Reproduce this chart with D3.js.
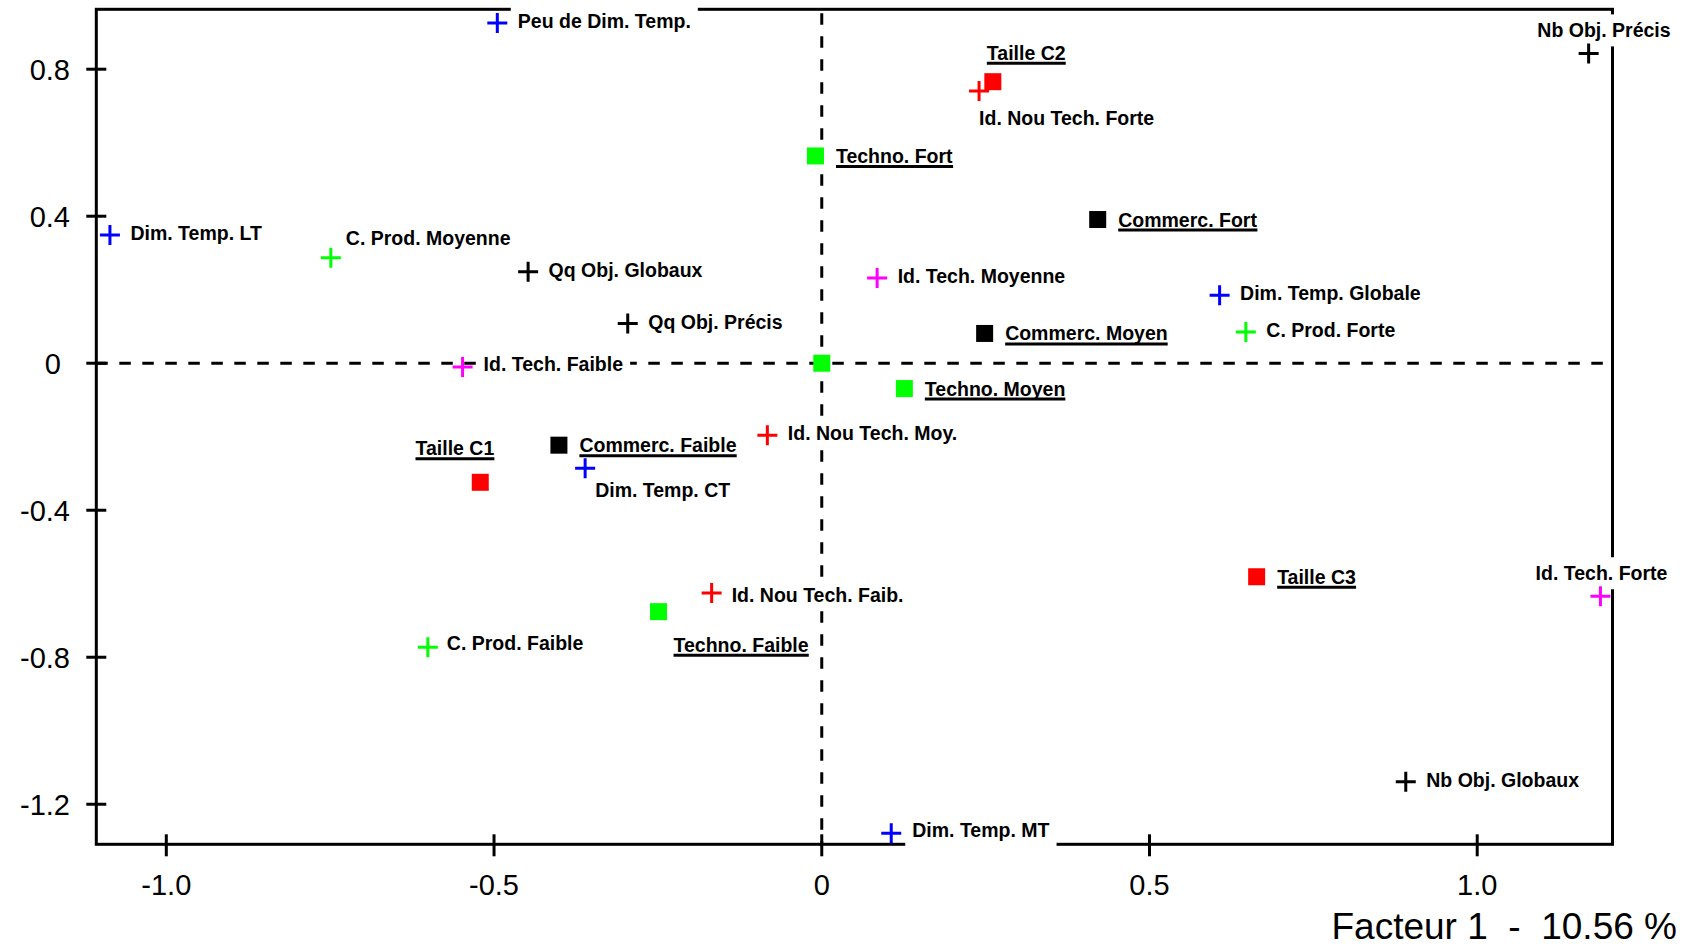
<!DOCTYPE html>
<html>
<head>
<meta charset="utf-8">
<script src="https://cdn.jsdelivr.net/npm/d3@7"></script>
<style>
  body { margin: 0; background: #fff; }
</style>
</head>
<body>
<div id="canvas"></div>
<script>
"use strict"

let svgWidth = 1686
let svgHeight = 948

/* modalities: name, coordinate on factor 1, coordinate on factor 2 */
let names = [
  "Peu de Dim. Temp.", "Dim. Temp. LT", "Dim. Temp. CT", "Dim. Temp. MT", "Dim. Temp. Globale",
  "C. Prod. Moyenne", "C. Prod. Forte", "C. Prod. Faible",
  "Qq Obj. Globaux", "Qq Obj. Précis", "Nb Obj. Précis", "Nb Obj. Globaux",
  "Id. Tech. Faible", "Id. Tech. Moyenne", "Id. Tech. Forte",
  "Id. Nou Tech. Forte", "Id. Nou Tech. Moy.", "Id. Nou Tech. Faib.",
  "Taille C1", "Taille C2", "Taille C3",
  "Commerc. Faible", "Commerc. Moyen", "Commerc. Fort",
  "Techno. Fort", "Techno. Moyen", "Techno. Faible", ""
]
let factor1 = [
  -0.495, -1.086, -0.361, 0.106, 0.607,
  -0.749, 0.647, -0.601,
  -0.448, -0.296, 1.170, 0.891,
  -0.548, 0.0845, 1.188,
  0.240, -0.083, -0.168,
  -0.521, 0.261, 0.6635,
  -0.401, 0.2485, 0.421,
  -0.0096, 0.126, -0.249, 0.0
]
let factor2 = [
  0.926, 0.349, -0.286, -1.279, 0.185,
  0.287, 0.085, -0.773,
  0.249, 0.108, 0.843, -1.139,
  -0.010, 0.232, -0.634,
  0.741, -0.196, -0.625,
  -0.324, 0.766, -0.581,
  -0.223, 0.081, 0.391,
  0.564, -0.069, -0.676, 0.0
]
/* square = active modality (underlined), cross = supplementary */
let markerType = [
  "cross", "cross", "cross", "cross", "cross",
  "cross", "cross", "cross",
  "cross", "cross", "cross", "cross",
  "cross", "cross", "cross",
  "cross", "cross", "cross",
  "square", "square", "square",
  "square", "square", "square",
  "square", "square", "square", "square"
]
let variable = [
  "dim", "dim", "dim", "dim", "dim",
  "prod", "prod", "prod",
  "obj", "obj", "obj", "obj",
  "tech", "tech", "tech",
  "nou", "nou", "nou",
  "taille", "taille", "taille",
  "commerc", "commerc", "commerc",
  "techno", "techno", "techno", "techno"
]

let xTicks = [-1.0, -0.5, 0, 0.5, 1.0]
let xTickLabels = ["-1.0", "-0.5", "0", "0.5", "1.0"]
let yTicks = [0.8, 0.4, 0, -0.4, -0.8, -1.2]
let yTickLabels = ["0.8", "0.4", "0", "-0.4", "-0.8", "-1.2"]
let axisTitle = "Facteur 1  -  10.56 %"

let points = names.map((n, i) => ({
  name: n, f1: factor1[i], f2: factor2[i], type: markerType[i], group: variable[i]
}))

let colors = {
  dim: "#0000ff", prod: "#00ff00", obj: "#000000", tech: "#ff00ff",
  nou: "#ff0000", taille: "#ff0000", commerc: "#000000", techno: "#00ff00"
}

/* where a label sits when it is not simply to the right of its marker */
let labelPlace = {
  "Taille C2": {dx: -6, dy: -22},
  "Id. Nou Tech. Forte": {dx: 0, dy: 34},
  "Taille C1": {dx: 14, dy: -27, anchor: "end"},
  "Dim. Temp. CT": {dx: 10, dy: 29},
  "Nb Obj. Précis": {dx: 82, dy: -16, anchor: "end"},
  "Id. Tech. Forte": {dx: 67, dy: -16, anchor: "end"},
  "Techno. Faible": {dx: 15, dy: 40},
  "C. Prod. Moyenne": {dx: 15, dy: -13},
  "Id. Nou Tech. Faib.": {dx: 20, dy: 9},
  "C. Prod. Faible": {dx: 19, dy: 3},
  "Id. Tech. Faible": {dx: 21, dy: 4},
  "Dim. Temp. MT": {dx: 21, dy: 4}
}

/* SVG canvas */
let svg = d3.select("#canvas")
  .append("svg")
  .attr("width", svgWidth)
  .attr("height", svgHeight)
  .style("display", "block")

/* Scales */
let xScale = d3.scaleLinear()
  .domain([-1.1068, 1.2064])
  .range([96.3, 1612.5])

let yScale = d3.scaleLinear()
  .domain([0.963, -1.309])
  .range([9.3, 844.3])

let frameLeft = xScale.range()[0], frameRight = xScale.range()[1]
let frameTop = yScale.range()[0], frameBottom = yScale.range()[1]

/* frame */
svg.append("rect")
  .attr("x", frameLeft)
  .attr("y", frameTop)
  .attr("width", frameRight - frameLeft)
  .attr("height", frameBottom - frameTop)
  .attr("fill", "none")
  .attr("stroke", "black")
  .attr("stroke-width", 3)

/* dashed lines through the origin */
svg.append("line")
  .attr("x1", frameLeft).attr("x2", frameRight)
  .attr("y1", yScale(0)).attr("y2", yScale(0))
  .attr("stroke", "black")
  .attr("stroke-width", 3)
  .attr("stroke-dasharray", "11.5,11.5")

svg.append("line")
  .attr("x1", xScale(0)).attr("x2", xScale(0))
  .attr("y1", frameTop).attr("y2", frameBottom)
  .attr("stroke", "black")
  .attr("stroke-width", 3)
  .attr("stroke-dasharray", "11.5,11.5")
  .attr("stroke-dashoffset", 19)

/* ticks */
svg.selectAll(".ytick")
  .data(yTicks)
  .join("line")
  .attr("class", "ytick")
  .attr("x1", frameLeft - 10).attr("x2", frameLeft + 10)
  .attr("y1", d => yScale(d)).attr("y2", d => yScale(d))
  .attr("stroke", "black")
  .attr("stroke-width", 3)

svg.selectAll(".xtick")
  .data(xTicks)
  .join("line")
  .attr("class", "xtick")
  .attr("x1", d => xScale(d)).attr("x2", d => xScale(d))
  .attr("y1", frameBottom - 10).attr("y2", frameBottom + 12)
  .attr("stroke", "black")
  .attr("stroke-width", 3)

/* tick numbers */
svg.selectAll(".ylabel")
  .data(yTicks)
  .join("text")
  .attr("class", "ylabel")
  .attr("x", 70)
  .attr("dx", d => d === 0 ? -9 : 0)
  .attr("y", d => yScale(d) + 11)
  .attr("text-anchor", "end")
  .attr("font-family", "Liberation Sans, Arial, sans-serif")
  .attr("font-size", 29)
  .text((d, i) => yTickLabels[i])

svg.selectAll(".xlabel")
  .data(xTicks)
  .join("text")
  .attr("class", "xlabel")
  .attr("x", d => xScale(d))
  .attr("y", 895)
  .attr("text-anchor", "middle")
  .attr("font-family", "Liberation Sans, Arial, sans-serif")
  .attr("font-size", 29)
  .text((d, i) => xTickLabels[i])

/* axis title */
svg.append("text")
  .attr("x", 1677)
  .attr("y", 939)
  .attr("text-anchor", "end")
  .attr("font-family", "Liberation Sans, Arial, sans-serif")
  .attr("font-size", 37)
  .style("white-space", "pre")
  .text(axisTitle)

/* layers: label backgrounds, markers, labels */
let bgLayer = svg.append("g")
let markLayer = svg.append("g")
let textLayer = svg.append("g")

function place(d) {
  let p = labelPlace[d.name]
  if (p) return p
  return {dx: 20.5, dy: d.type === "square" ? 7 : 5}
}

let labels = textLayer.selectAll("text")
  .data(points.filter(d => d.name !== ""))
  .join("text")
  .attr("x", d => xScale(d.f1) + place(d).dx)
  .attr("y", d => yScale(d.f2) + place(d).dy)
  .attr("text-anchor", d => place(d).anchor || "start")
  .attr("font-family", "Liberation Sans, Arial, sans-serif")
  .attr("font-weight", "bold")
  .attr("font-size", 19.5)
  .text(d => d.name)

/* white box behind each label, it hides the lines underneath */
labels.each(function(d) {
  let bb = this.getBBox()
  let baseY = +d3.select(this).attr("y")
  bgLayer.append("rect")
    .attr("x", bb.x - 7)
    .attr("y", bb.y - 5)
    .attr("width", bb.width + 14)
    .attr("height", bb.height + 10)
    .attr("fill", "white")
  if (d.type === "square") {
    textLayer.append("line")
      .attr("x1", bb.x).attr("x2", bb.x + bb.width)
      .attr("y1", baseY + 3.5)
      .attr("y2", baseY + 3.5)
      .attr("stroke", "black")
      .attr("stroke-width", 3)
  }
})

/* markers */
markLayer.selectAll(".sq")
  .data(points.filter(d => d.type === "square"))
  .join("rect")
  .attr("class", "sq")
  .attr("x", d => xScale(d.f1) - 8.5)
  .attr("y", d => yScale(d.f2) - 8.5)
  .attr("width", 17)
  .attr("height", 17)
  .attr("fill", d => colors[d.group])

markLayer.selectAll(".cross")
  .data(points.filter(d => d.type === "cross"))
  .join("path")
  .attr("class", "cross")
  .attr("d", d => {
    let x = xScale(d.f1), y = yScale(d.f2)
    return "M" + (x - 10) + "," + y + "H" + (x + 10) + "M" + x + "," + (y - 10) + "V" + (y + 10)
  })
  .attr("stroke", d => colors[d.group])
  .attr("stroke-width", 3)
  .attr("fill", "none")
</script>
</body>
</html>
